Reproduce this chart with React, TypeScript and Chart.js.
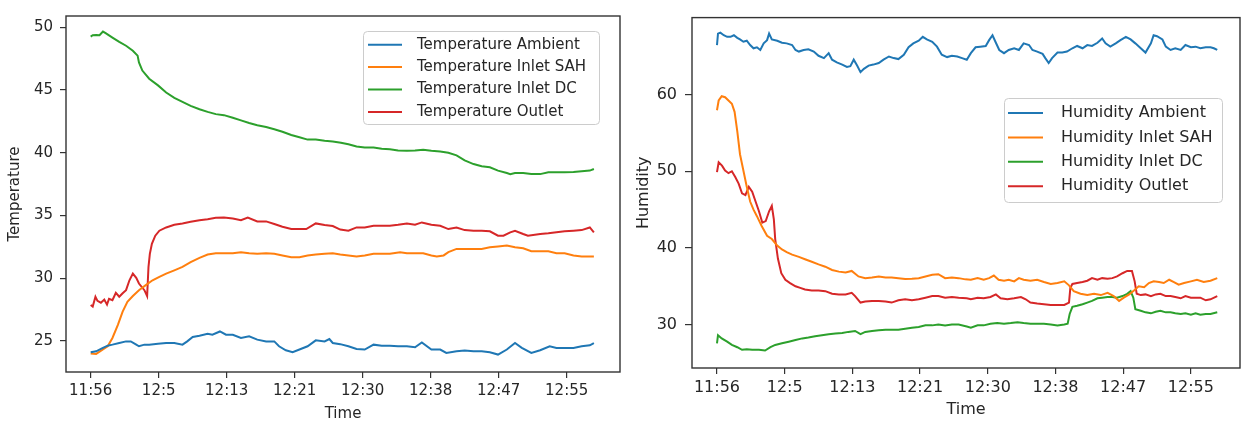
import React, { useEffect, useRef } from "react";
import { Chart, registerables } from "chart.js";

Chart.register(...registerables);

// ---------- data ----------
// Time axis: positions are expressed in "tick units" (0 = 11:56, 1 = 12:5, ...)
const timeTickLabels = ["11:56", "12:5", "12:13", "12:21", "12:30", "12:38", "12:47", "12:55"];
const temperatureTicks = [25, 30, 35, 40, 45, 50];
const humidityTicks = [30, 40, 50, 60];

const temperatureAmbient: [number, number][] = [
  [0, 24.11], [0.08, 24.18], [0.18, 24.45], [0.25, 24.63], [0.32, 24.71], [0.42, 24.84], [0.52, 24.97],
  [0.59, 24.97], [0.67, 24.71], [0.71, 24.58], [0.79, 24.71], [0.86, 24.71], [0.99, 24.79], [1.11, 24.84],
  [1.23, 24.84], [1.35, 24.71], [1.42, 24.97], [1.5, 25.32], [1.6, 25.42], [1.72, 25.58], [1.79, 25.5],
  [1.9, 25.76], [1.99, 25.5], [2.09, 25.5], [2.21, 25.24], [2.33, 25.37], [2.45, 25.11], [2.58, 24.97],
  [2.7, 24.97], [2.77, 24.58], [2.87, 24.26], [2.97, 24.11], [3.07, 24.32], [3.19, 24.58], [3.31, 25.05],
  [3.44, 24.97], [3.51, 25.16], [3.56, 24.84], [3.67, 24.75], [3.79, 24.58], [3.91, 24.37], [4.03, 24.32],
  [4.16, 24.71], [4.28, 24.63], [4.4, 24.63], [4.52, 24.58], [4.65, 24.58], [4.77, 24.5], [4.87, 24.89],
  [5.01, 24.32], [5.14, 24.32], [5.23, 24.05], [5.38, 24.18], [5.5, 24.24], [5.63, 24.18], [5.75, 24.18],
  [5.87, 24.11], [5.99, 23.92], [6.12, 24.32], [6.24, 24.84], [6.34, 24.45], [6.48, 24.05], [6.61, 24.26],
  [6.75, 24.58], [6.85, 24.45], [6.97, 24.45], [7.1, 24.45], [7.22, 24.58], [7.34, 24.66], [7.4, 24.84],
];

const temperatureInletSAH: [number, number][] = [
  [0, 24.0], [0.08, 23.97], [0.18, 24.32], [0.25, 24.58], [0.32, 25.24], [0.4, 26.29], [0.47, 27.34],
  [0.54, 28.13], [0.62, 28.58], [0.71, 29.05], [0.81, 29.45], [0.91, 29.84], [1.01, 30.11], [1.11, 30.37],
  [1.23, 30.63], [1.35, 30.9], [1.47, 31.29], [1.6, 31.63], [1.72, 31.89], [1.84, 32.0], [1.96, 32.0],
  [2.09, 32.0], [2.21, 32.08], [2.33, 32.0], [2.45, 31.95], [2.58, 32.0], [2.7, 31.95], [2.82, 31.82],
  [2.95, 31.68], [3.07, 31.68], [3.19, 31.82], [3.31, 31.89], [3.44, 31.95], [3.56, 32.0], [3.67, 31.89],
  [3.79, 31.82], [3.91, 31.74], [4.03, 31.82], [4.16, 31.95], [4.28, 31.95], [4.4, 31.95], [4.55, 32.08],
  [4.65, 32.0], [4.77, 32.0], [4.89, 32.0], [5.01, 31.82], [5.09, 31.74], [5.19, 31.82], [5.26, 32.08],
  [5.38, 32.34], [5.5, 32.34], [5.63, 32.34], [5.75, 32.34], [5.87, 32.47], [5.99, 32.53], [6.12, 32.61],
  [6.24, 32.47], [6.36, 32.39], [6.48, 32.16], [6.61, 32.16], [6.73, 32.16], [6.85, 32.0], [6.97, 32.0],
  [7.1, 31.82], [7.22, 31.74], [7.34, 31.74], [7.4, 31.74],
];

const temperatureInletDC: [number, number][] = [
  [0, 49.26], [0.03, 49.37], [0.08, 49.39], [0.13, 49.37], [0.18, 49.66], [0.22, 49.53], [0.32, 49.18],
  [0.42, 48.84], [0.52, 48.53], [0.62, 48.13], [0.69, 47.74], [0.71, 47.2], [0.76, 46.55], [0.86, 45.9],
  [0.99, 45.37], [1.11, 44.8], [1.23, 44.37], [1.35, 44.05], [1.47, 43.74], [1.6, 43.47], [1.72, 43.26],
  [1.84, 43.08], [1.96, 43.0], [2.09, 42.79], [2.21, 42.58], [2.33, 42.37], [2.45, 42.2], [2.58, 42.05],
  [2.7, 41.87], [2.82, 41.68], [2.95, 41.42], [3.07, 41.24], [3.19, 41.05], [3.31, 41.05], [3.44, 40.95],
  [3.56, 40.9], [3.68, 40.8], [3.79, 40.68], [3.91, 40.5], [4.03, 40.42], [4.16, 40.42], [4.28, 40.32],
  [4.4, 40.29], [4.52, 40.18], [4.65, 40.16], [4.77, 40.18], [4.89, 40.24], [5.01, 40.16], [5.14, 40.1],
  [5.26, 40.0], [5.38, 39.79], [5.5, 39.39], [5.63, 39.1], [5.75, 38.92], [5.87, 38.84], [5.99, 38.58],
  [6.12, 38.39], [6.17, 38.3], [6.24, 38.39], [6.36, 38.39], [6.48, 38.3], [6.61, 38.3], [6.73, 38.45],
  [6.85, 38.45], [6.97, 38.45], [7.1, 38.47], [7.22, 38.53], [7.34, 38.58], [7.4, 38.71],
];

const temperatureOutlet: [number, number][] = [
  [0, 27.87], [0.03, 27.74], [0.07, 28.53], [0.1, 28.2], [0.15, 28.05], [0.2, 28.3], [0.24, 27.9],
  [0.27, 28.37], [0.32, 28.26], [0.37, 28.84], [0.42, 28.53], [0.47, 28.8], [0.52, 29.05], [0.57, 29.84],
  [0.62, 30.37], [0.67, 30.03], [0.71, 29.58], [0.79, 29.05], [0.83, 28.58], [0.85, 30.9], [0.87, 31.95],
  [0.9, 32.74], [0.95, 33.39], [1.01, 33.79], [1.11, 34.05], [1.23, 34.26], [1.35, 34.37], [1.47, 34.5],
  [1.6, 34.63], [1.72, 34.71], [1.84, 34.82], [1.96, 34.84], [2.09, 34.76], [2.21, 34.63], [2.31, 34.84],
  [2.45, 34.53], [2.58, 34.53], [2.7, 34.32], [2.82, 34.11], [2.95, 33.92], [3.07, 33.92], [3.17, 33.92],
  [3.31, 34.37], [3.44, 34.24], [3.56, 34.16], [3.67, 33.88], [3.79, 33.79], [3.91, 34.05], [4.03, 34.05],
  [4.16, 34.18], [4.28, 34.18], [4.4, 34.18], [4.52, 34.26], [4.65, 34.37], [4.77, 34.26], [4.87, 34.45],
  [5.01, 34.26], [5.14, 34.18], [5.26, 33.92], [5.38, 34.05], [5.5, 33.84], [5.63, 33.79], [5.75, 33.79],
  [5.87, 33.74], [5.99, 33.39], [6.07, 33.39], [6.17, 33.66], [6.24, 33.79], [6.36, 33.53], [6.43, 33.39],
  [6.61, 33.53], [6.73, 33.58], [6.85, 33.66], [6.97, 33.74], [7.1, 33.79], [7.22, 33.84], [7.34, 34.05],
  [7.4, 33.66],
];

const humidityAmbient: [number, number][] = [
  [0, 66.46], [0.015, 67.95], [0.05, 68.08], [0.1, 67.74], [0.15, 67.53], [0.2, 67.53], [0.25, 67.74],
  [0.3, 67.4], [0.34, 67.19], [0.39, 66.89], [0.44, 67.02], [0.49, 66.46], [0.54, 66.04], [0.59, 66.17],
  [0.64, 65.82], [0.69, 66.68], [0.74, 67.1], [0.77, 67.95], [0.81, 67.19], [0.89, 67.02], [0.96, 66.76],
  [1.03, 66.68], [1.11, 66.46], [1.16, 65.82], [1.21, 65.61], [1.28, 65.82], [1.35, 65.91], [1.43, 65.61],
  [1.5, 65.06], [1.58, 64.76], [1.65, 65.4], [1.7, 64.55], [1.77, 64.21], [1.85, 63.91], [1.92, 63.61],
  [1.97, 63.7], [2.02, 64.55], [2.07, 63.78], [2.12, 62.93], [2.17, 63.36], [2.24, 63.78], [2.31, 63.91],
  [2.39, 64.12], [2.46, 64.55], [2.54, 64.97], [2.61, 64.76], [2.68, 64.63], [2.76, 65.19], [2.83, 66.17],
  [2.9, 66.68], [2.98, 67.02], [3.04, 67.53], [3.1, 67.19], [3.18, 66.89], [3.25, 66.25], [3.32, 65.19],
  [3.4, 64.89], [3.47, 65.06], [3.55, 64.97], [3.62, 64.76], [3.69, 64.55], [3.75, 65.4], [3.82, 66.17],
  [3.89, 66.25], [3.97, 66.34], [4.02, 67.1], [4.07, 67.74], [4.12, 66.76], [4.17, 65.82], [4.24, 65.4],
  [4.31, 65.82], [4.39, 66.04], [4.46, 65.82], [4.53, 66.68], [4.61, 66.46], [4.66, 65.82], [4.73, 65.61],
  [4.81, 65.31], [4.85, 64.76], [4.9, 64.12], [4.95, 64.76], [5.03, 65.48], [5.1, 65.48], [5.17, 65.61],
  [5.25, 66.04], [5.32, 66.34], [5.4, 66.04], [5.47, 66.46], [5.54, 66.34], [5.62, 66.76], [5.69, 67.31],
  [5.74, 66.68], [5.81, 66.25], [5.89, 66.68], [5.96, 67.1], [6.04, 67.53], [6.11, 67.19], [6.18, 66.68],
  [6.26, 66.04], [6.33, 65.48], [6.41, 66.68], [6.45, 67.74], [6.5, 67.61], [6.58, 67.19], [6.63, 66.25],
  [6.7, 65.82], [6.77, 66.04], [6.85, 65.82], [6.92, 66.46], [7.0, 66.17], [7.07, 66.25], [7.14, 66.04],
  [7.22, 66.17], [7.29, 66.17], [7.34, 66.04], [7.39, 65.82],
];

const humidityInletSAH: [number, number][] = [
  [0, 57.96], [0.025, 59.23], [0.07, 59.79], [0.12, 59.66], [0.17, 59.23], [0.22, 58.81], [0.26, 57.75],
  [0.3, 55.2], [0.34, 52.22], [0.39, 50.09], [0.44, 47.97], [0.49, 46.05], [0.54, 44.99], [0.59, 44.14],
  [0.66, 42.87], [0.74, 41.59], [0.81, 41.16], [0.89, 40.31], [0.96, 39.8], [1.03, 39.46], [1.11, 39.12],
  [1.21, 38.83], [1.3, 38.53], [1.4, 38.19], [1.5, 37.85], [1.6, 37.55], [1.7, 37.13], [1.8, 36.91],
  [1.9, 36.79], [1.99, 37.0], [2.09, 36.28], [2.19, 36.06], [2.29, 36.15], [2.39, 36.28], [2.49, 36.15],
  [2.58, 36.15], [2.68, 36.06], [2.78, 35.94], [2.88, 35.98], [2.98, 36.06], [3.08, 36.28], [3.18, 36.49],
  [3.27, 36.57], [3.37, 36.06], [3.47, 36.15], [3.57, 36.06], [3.67, 35.9], [3.75, 35.85], [3.85, 36.06],
  [3.94, 35.85], [4.02, 36.06], [4.09, 36.4], [4.16, 35.85], [4.24, 35.72], [4.31, 35.85], [4.39, 35.64],
  [4.46, 36.06], [4.53, 35.85], [4.63, 35.72], [4.73, 35.85], [4.83, 35.55], [4.93, 35.3], [5.03, 35.42],
  [5.13, 35.64], [5.2, 35.12], [5.27, 34.36], [5.37, 34.02], [5.47, 33.85], [5.57, 34.02], [5.67, 33.85],
  [5.77, 34.15], [5.86, 33.72], [5.94, 33.09], [6.01, 33.51], [6.09, 33.94], [6.16, 34.45], [6.23, 35.0],
  [6.31, 34.87], [6.38, 35.42], [6.45, 35.64], [6.53, 35.55], [6.6, 35.42], [6.68, 35.85], [6.75, 35.55],
  [6.82, 35.21], [6.9, 35.42], [7.0, 35.64], [7.09, 35.85], [7.19, 35.55], [7.29, 35.72], [7.39, 36.06],
];

const humidityInletDC: [number, number][] = [
  [0, 27.56], [0.015, 28.62], [0.07, 28.2], [0.15, 27.77], [0.22, 27.35], [0.3, 27.05], [0.37, 26.71],
  [0.44, 26.79], [0.52, 26.71], [0.62, 26.71], [0.71, 26.62], [0.79, 27.05], [0.86, 27.35], [0.96, 27.56],
  [1.06, 27.77], [1.16, 27.98], [1.26, 28.2], [1.35, 28.32], [1.45, 28.49], [1.55, 28.62], [1.65, 28.75],
  [1.75, 28.83], [1.85, 28.92], [1.94, 29.05], [2.04, 29.17], [2.12, 28.75], [2.19, 29.05], [2.29, 29.17],
  [2.39, 29.26], [2.49, 29.34], [2.58, 29.34], [2.68, 29.34], [2.78, 29.47], [2.88, 29.6], [2.98, 29.68],
  [3.08, 29.9], [3.18, 29.9], [3.27, 30.02], [3.37, 29.9], [3.47, 30.02], [3.57, 30.02], [3.69, 29.75],
  [3.75, 29.6], [3.85, 29.9], [3.94, 29.9], [4.04, 30.11], [4.14, 30.2], [4.24, 30.11], [4.34, 30.2],
  [4.44, 30.32], [4.53, 30.2], [4.63, 30.11], [4.73, 30.11], [4.83, 30.11], [4.93, 30.02], [5.03, 29.9],
  [5.13, 30.02], [5.18, 30.11], [5.21, 31.38], [5.25, 32.32], [5.32, 32.45], [5.4, 32.66], [5.47, 32.87],
  [5.54, 33.09], [5.62, 33.43], [5.69, 33.51], [5.77, 33.6], [5.84, 33.6], [5.91, 33.51], [5.99, 33.72],
  [6.06, 34.02], [6.11, 34.36], [6.15, 33.51], [6.18, 32.02], [6.26, 31.81], [6.33, 31.6], [6.41, 31.47],
  [6.48, 31.68], [6.55, 31.81], [6.63, 31.6], [6.7, 31.6], [6.77, 31.47], [6.85, 31.38], [6.92, 31.47],
  [7.0, 31.3], [7.07, 31.47], [7.14, 31.3], [7.22, 31.38], [7.29, 31.38], [7.39, 31.6],
];

const humidityOutlet: [number, number][] = [
  [0, 49.88], [0.025, 51.16], [0.074, 50.73], [0.12, 50.09], [0.17, 49.75], [0.22, 50.0], [0.27, 49.24],
  [0.32, 48.39], [0.37, 47.12], [0.42, 46.9], [0.47, 47.97], [0.52, 47.33], [0.57, 46.05], [0.62, 44.78],
  [0.67, 43.29], [0.72, 43.5], [0.77, 44.78], [0.81, 45.5], [0.84, 43.72], [0.86, 41.16], [0.9, 38.61],
  [0.95, 36.7], [1.01, 35.85], [1.08, 35.42], [1.16, 35.0], [1.23, 34.79], [1.3, 34.57], [1.4, 34.45],
  [1.5, 34.45], [1.6, 34.36], [1.7, 34.02], [1.8, 33.94], [1.9, 33.94], [1.99, 34.15], [2.04, 33.72],
  [2.12, 32.87], [2.19, 33.0], [2.29, 33.09], [2.39, 33.09], [2.49, 33.0], [2.58, 32.87], [2.68, 33.17],
  [2.78, 33.3], [2.88, 33.17], [2.98, 33.3], [3.08, 33.51], [3.18, 33.72], [3.27, 33.72], [3.37, 33.51],
  [3.47, 33.6], [3.57, 33.51], [3.69, 33.43], [3.75, 33.3], [3.85, 33.51], [3.94, 33.43], [4.04, 33.6],
  [4.12, 33.94], [4.19, 33.43], [4.29, 33.3], [4.39, 33.43], [4.49, 33.6], [4.56, 33.3], [4.63, 32.87],
  [4.73, 32.74], [4.83, 32.66], [4.93, 32.57], [5.03, 32.57], [5.13, 32.57], [5.2, 32.87], [5.22, 34.79],
  [5.25, 35.3], [5.32, 35.42], [5.4, 35.55], [5.47, 35.72], [5.54, 36.06], [5.62, 35.85], [5.69, 36.06],
  [5.77, 35.98], [5.84, 36.06], [5.91, 36.28], [5.99, 36.7], [6.06, 37.0], [6.13, 37.0], [6.17, 35.64],
  [6.2, 34.02], [6.26, 33.85], [6.33, 33.94], [6.41, 33.72], [6.48, 33.94], [6.55, 34.02], [6.63, 33.72],
  [6.7, 33.72], [6.77, 33.6], [6.85, 33.43], [6.92, 33.72], [7.0, 33.51], [7.07, 33.51], [7.14, 33.51],
  [7.22, 33.17], [7.29, 33.3], [7.39, 33.72],
];

const temperatureLabels = ["Temperature Ambient", "Temperature Inlet SAH", "Temperature Inlet DC", "Temperature Outlet"];
const humidityLabels = ["Humidity Ambient", "Humidity Inlet SAH", "Humidity Inlet DC", "Humidity Outlet"];
const seriesColors = ["#1f77b4", "#ff7f0e", "#2ca02c", "#d62728"];

// ---------- styling / layout ----------
const FONT = "'DejaVu Sans', 'Liberation Sans', sans-serif";
const TEXT = "#262626";
const FRAME = "#333333";

type LegendBox = {
  x: number; y: number; w: number; h: number;
  lineX0: number; lineX1: number; textX: number; rowY: number; rowStep: number; fontSize: number;
};

const mplPlugin = {
  id: "mplFrameLegend",
  afterDatasetsDraw(chart: any, _args: any, opts: any) {
    const { ctx, chartArea: a } = chart;
    ctx.save();
    ctx.strokeStyle = FRAME;
    ctx.lineWidth = 1.4;
    ctx.strokeRect(a.left, a.top, a.right - a.left, a.bottom - a.top);

    const L: LegendBox = opts.legend;
    if (L) {
      ctx.beginPath();
      if ((ctx as any).roundRect) (ctx as any).roundRect(L.x + 0.5, L.y + 0.5, L.w, L.h, 4);
      else ctx.rect(L.x + 0.5, L.y + 0.5, L.w, L.h);
      ctx.fillStyle = "rgba(255,255,255,0.85)";
      ctx.fill();
      ctx.strokeStyle = "#cccccc";
      ctx.lineWidth = 1;
      ctx.stroke();
      chart.data.datasets.forEach((ds: any, i: number) => {
        const y = L.rowY + i * L.rowStep;
        ctx.beginPath();
        ctx.strokeStyle = ds.borderColor;
        ctx.lineWidth = 2;
        ctx.moveTo(L.lineX0, y);
        ctx.lineTo(L.lineX1, y);
        ctx.stroke();
        ctx.fillStyle = TEXT;
        ctx.font = `${L.fontSize}px ${FONT}`;
        ctx.textBaseline = "middle";
        ctx.textAlign = "left";
        ctx.fillText(ds.label, L.textX, y);
      });
    }
    ctx.restore();
  },
};

type PanelProps = {
  width: number;
  left: number;
  series: [number, number][][];
  labels: string[];
  yTitle: string;
  yTicks: number[];
  yMin: number; yMax: number;
  xMin: number; xMax: number;
  fontSize: number;
  padding: { left: number; top: number; right: number; bottom: number };
  yAxisWidth: number; xAxisHeight: number;
  yTickLen: number; yTickPad: number; yTitlePad: number;
  xTickPad: number; xTitlePad: number;
  legend: LegendBox;
};

function Panel(p: PanelProps) {
  const ref = useRef<HTMLCanvasElement | null>(null);
  useEffect(() => {
    if (!ref.current) return;
    const font = { family: FONT, size: p.fontSize };
    const chart = new Chart(ref.current, {
      type: "line",
      data: {
        datasets: p.series.map((s, i) => ({
          label: p.labels[i],
          data: s.map(([x, y]) => ({ x, y })),
          borderColor: seriesColors[i],
          backgroundColor: seriesColors[i],
          borderWidth: 2,
          pointRadius: 0,
          tension: 0,
          fill: false,
        })),
      },
      options: {
        animation: false,
        responsive: false,
        devicePixelRatio: 1,
        layout: { padding: p.padding },
        plugins: {
          legend: { display: false },
          tooltip: { enabled: false },
          mplFrameLegend: { legend: p.legend },
        } as any,
        scales: {
          x: {
            type: "linear",
            min: p.xMin,
            max: p.xMax,
            afterBuildTicks: (s: any) => {
              s.ticks = timeTickLabels.map((_, i) => ({ value: i }));
            },
            afterFit: (s: any) => {
              s.height = p.xAxisHeight;
            },
            ticks: {
              autoSkip: false,
              maxRotation: 0,
              minRotation: 0,
              padding: p.xTickPad,
              color: TEXT,
              font,
              callback: (_v: any, i: number) => timeTickLabels[i],
            },
            grid: { drawOnChartArea: false, drawTicks: true, tickLength: 6, color: FRAME, lineWidth: 1.2 },
            border: { display: false },
            title: {
              display: true,
              text: "Time",
              color: TEXT,
              font: { ...font, lineHeight: 1 },
              padding: { top: 0, bottom: p.xTitlePad },
            },
          },
          y: {
            type: "linear",
            min: p.yMin,
            max: p.yMax,
            afterBuildTicks: (s: any) => {
              s.ticks = p.yTicks.map((v) => ({ value: v }));
            },
            afterFit: (s: any) => {
              s.width = p.yAxisWidth;
            },
            ticks: { padding: p.yTickPad, color: TEXT, font },
            grid: { drawOnChartArea: false, drawTicks: true, tickLength: p.yTickLen, color: FRAME, lineWidth: 1.2 },
            border: { display: false },
            title: {
              display: true,
              text: p.yTitle,
              color: TEXT,
              font,
              padding: { top: p.yTitlePad, bottom: 0 },
            },
          },
        },
      } as any,
      plugins: [mplPlugin as any],
    });
    return () => chart.destroy();
  }, []);
  return (
    <canvas
      ref={ref}
      width={p.width}
      height={423}
      style={{ position: "absolute", left: p.left, top: 0, width: p.width, height: 423 }}
    />
  );
}

export default function App() {
  return (
    <div style={{ position: "absolute", left: 0, top: 0, width: 1242, height: 423, background: "#fff", overflow: "hidden" }}>
      <Panel
        width={630}
        left={0}
        series={[temperatureAmbient, temperatureInletSAH, temperatureInletDC, temperatureOutlet]}
        labels={temperatureLabels}
        yTitle="Temperature"
        yTicks={temperatureTicks}
        yMin={22.53}
        yMax={50.9}
        xMin={-0.363}
        xMax={7.784}
        fontSize={15}
        padding={{ left: 0, top: 13, right: 10, bottom: 0 }}
        yAxisWidth={66}
        xAxisHeight={51}
        yTickLen={6}
        yTickPad={7}
        yTitlePad={6}
        xTickPad={4}
        xTitlePad={1}
        legend={{ x: 363, y: 31, w: 236, h: 93, lineX0: 368, lineX1: 402, textX: 417, rowY: 44.7, rowStep: 22.4, fontSize: 15 }}
      />
      <Panel
        width={612}
        left={630}
        series={[humidityAmbient, humidityInletSAH, humidityInletDC, humidityOutlet]}
        labels={humidityLabels}
        yTitle="Humidity"
        yTicks={humidityTicks}
        yMin={24.34}
        yMax={70.04}
        xMin={-0.369}
        xMax={7.726}
        fontSize={16}
        padding={{ left: 0, top: 9, right: 2, bottom: 0 }}
        yAxisWidth={62}
        xAxisHeight={55}
        yTickLen={7}
        yTickPad={8}
        yTitlePad={4.4}
        xTickPad={4}
        xTitlePad={5.5}
        legend={{ x: 374, y: 98, w: 218, h: 104, lineX0: 378, lineX1: 413, textX: 431, rowY: 113, rowStep: 24.4, fontSize: 16 }}
      />
    </div>
  );
}
